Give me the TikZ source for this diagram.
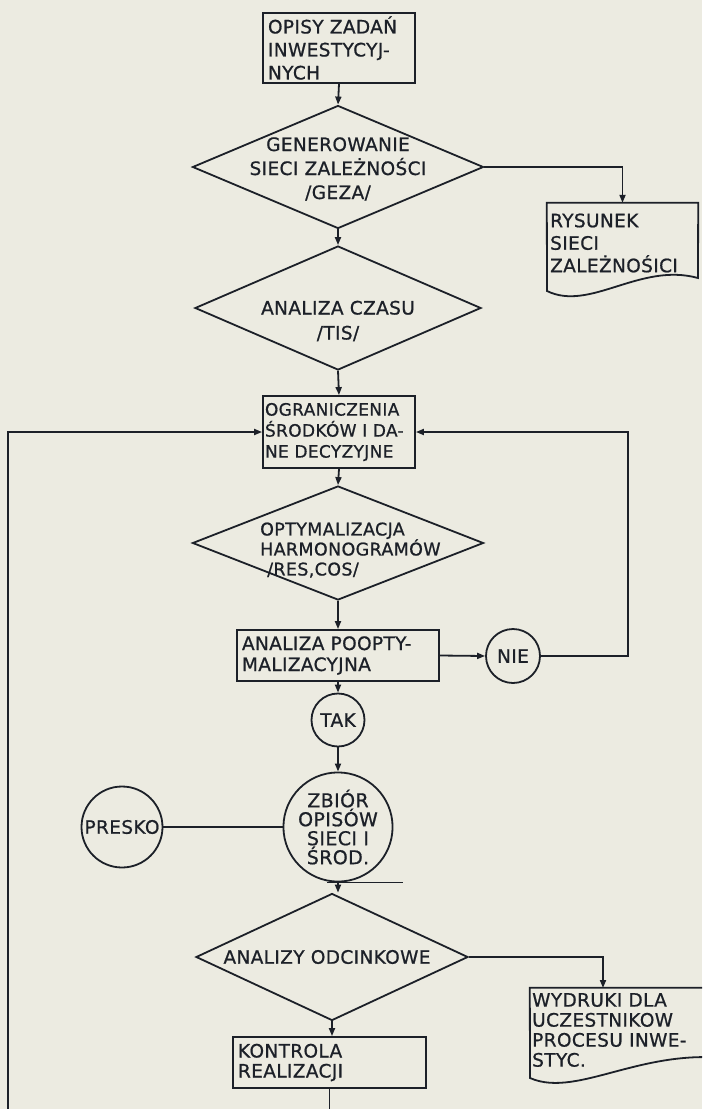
\documentclass[tikz,border=0pt]{standalone}
\usepackage{fontspec}
\setmainfont{DejaVu Sans}[LetterSpace=2, FakeBold=0.8]
\usetikzlibrary{shapes.geometric,arrows.meta}
\definecolor{paper}{RGB}{236,235,225}
\definecolor{ink}{RGB}{28,32,40}
\newcommand\flowtext[2]{\fontsize{#1}{#2}\selectfont}

\begin{document}
\begin{tikzpicture}[x=1pt,y=-1pt,
  base/.style={draw=ink, line width=1.8pt, inner sep=0pt},
  stepbox/.style={base, rectangle, align=left, inner xsep=5pt, inner ysep=0pt, text=ink},
  decide/.style={base, diamond},
  terminal/.style={base, circle, text=ink, align=center},
  doc/.style={rectangle, inner sep=0pt},
  lbl/.style={inner sep=0pt, text=ink},
  conn/.style={draw=ink, line width=1.8pt},
  arr/.style={conn, -{Triangle[length=8pt,width=6pt]}}]

\useasboundingbox (0,0) rectangle (702,1109);
\fill[paper] (0,0) rectangle (702,1109);
\clip (0,0) rectangle (702,1109);

% main column
\node[stepbox, minimum width=152, minimum height=70, text width=142, font=\flowtext{18.5}{23}] (box1) at (339,48)
  {OPISY ZADAŃ\\INWESTYCYJ-\\NYCH};

\node[decide, minimum width=291, minimum height=123] (d1) at (338,167) {};
\node[lbl, align=center, font=\flowtext{18.5}{24}] (d1t) at (338,169)
  {GENEROWANIE\\SIECI ZALEŻNOŚCI\\/GEZA/};

\node[decide, minimum width=286, minimum height=124] (d2) at (338,308) {};
\node[lbl, align=center, font=\flowtext{18.5}{25}] (d2t) at (338,321)
  {ANALIZA CZASU\\/TIS/};

\node[stepbox, inner xsep=2pt, minimum width=152, minimum height=72, text width=148, font=\flowtext{17}{21}] (box3) at (339,432)
  {OGRANICZENIA\\ŚRODKÓW I DA-\\NE DECYZYJNE};

\node[decide, minimum width=291, minimum height=114] (d3) at (338,543) {};
\node[lbl, align=left, anchor=west, font=\flowtext{17.5}{20}] (d3t) at (260,550)
  {OPTYMALIZACJA\\HARMONOGRAMÓW\\\hspace*{7pt}/RES,COS/};

\node[stepbox, minimum width=202, minimum height=51, text width=192, font=\flowtext{18.5}{21}] (box4) at (338,655.5)
  {ANALIZA POOPTY-\\MALIZACYJNA};

\node[terminal, minimum size=54, font=\flowtext{18.5}{20}] (nie) at (513,656) {NIE};
\node[terminal, minimum size=53, font=\flowtext{18.5}{20}] (tak) at (338,720) {TAK};

\node[terminal, minimum size=104, font=\flowtext{19}{19}] (zbior) at (338,827)
  {ZBIÓR\\OPISÓW\\SIECI I\\ŚROD.};
\node[terminal, minimum size=81, font=\flowtext{18.5}{20}] (presko) at (122,827) {PRESKO};

\node[decide, minimum width=272, minimum height=127] (d4) at (332,957) {};
\node[lbl, font=\flowtext{18.5}{20}] (d4t) at (327,957) {ANALIZY ODCINKOWE};

\node[stepbox, minimum width=193, minimum height=51, text width=183, font=\flowtext{18.5}{20}] (box5) at (329.5,1062.5)
  {KONTROLA\\REALIZACJI};

% printed outputs (document symbols)
\node[doc, minimum width=151, minimum height=92] (doc1) at (622.5,249) {};
\draw[conn] (doc1.north west) -- (doc1.north east) -- (698,278)
  .. controls (640,262) and (590,312) .. (547,291) -- cycle;
\node[lbl, align=left, anchor=west, font=\flowtext{18.5}{22.5}] (doc1t) at (550,243)
  {RYSUNEK\\SIECI\\ZALEŻNOŚICI};

\node[doc, minimum width=220, minimum height=90] (doc2) at (640,1033) {};
\draw[conn] (doc2.north east) -- (doc2.north west) -- (530,1078)
  .. controls (580,1100) and (650,1040) .. (750,1062);
\node[lbl, align=left, anchor=west, font=\flowtext{18.5}{20}] (doc2t) at (532,1030)
  {WYDRUKI DLA\\UCZESTNIKOW\\PROCESU INWE-\\STYC.};
\coordinate (doc2in) at (603,988);

% connectors along the main column
\draw[arr] (box1.south) -- (d1.north);
\draw[arr] (d1.south) -- (d2.north);
\draw[arr] (d2.south) -- (box3.north);
\draw[arr] (box3.south) -- (d3.north);
\draw[arr] (d3.south) -- (box4.north);
\draw[arr] (box4.south) -- (tak.north);
\draw[arr] (tak.south) -- (zbior.north);
\draw[arr] (zbior.south) -- (zbior.south |- d4.north);
\draw[arr] (d4.south) -- (d4.south |- box5.north);

% side branches
\draw[arr] (d1.east) -| (doc1.north);
\draw[arr] (d4.east) -| (doc2in);
\draw[arr] (box4.east) -- (nie.west);
\draw[conn] (presko.east) -- (zbior.west);
\draw[conn] ([xshift=-11pt]zbior.south) -- ++(76,0);

% return paths to the resource step
\coordinate (rightturn) at (628,432);
\draw[arr] (nie.east) -| (rightturn) -- (box3.east);
\coordinate (leftturn) at (8,1109);
\draw[conn] (box5.south) -- (box5.south |- leftturn);
\draw[arr] (leftturn) |- (box3.west);
\end{tikzpicture}
\end{document}
